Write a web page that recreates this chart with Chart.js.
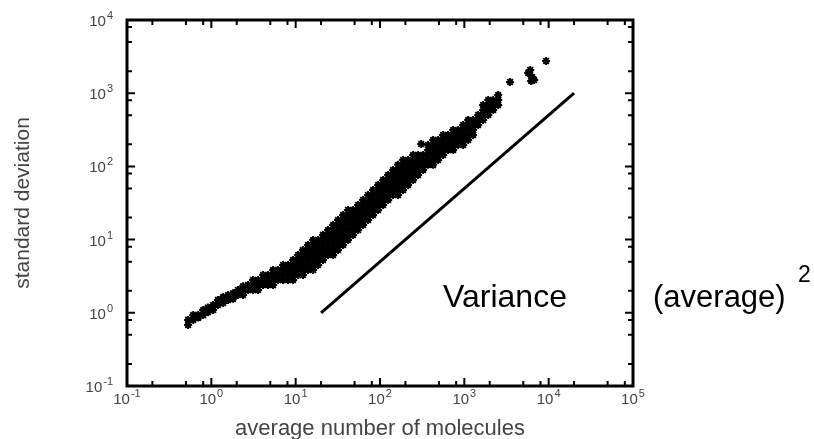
<!DOCTYPE html>
<html>
<head>
<meta charset="utf-8">
<title>standard deviation vs average number of molecules</title>
<script src="https://cdn.jsdelivr.net/npm/chart.js@4.4.1/dist/chart.umd.min.js"></script>
<style>
  html, body { margin: 0; padding: 0; background: #fff; }
  #wrap { width: 814px; height: 439px; position: relative; }
</style>
</head>
<body>
<div id="wrap"><canvas id="chart"></canvas></div>
<script>
// Scatter of standard deviation against average molecule count (log-log)
// ============================================================

// band of the cloud: one x per column, with the y samples read in that column
const colX = [0.53, 0.61, 0.70, 0.80, 0.91, 1.05, 1.20, 1.38, 1.58, 1.81,
  2.07, 2.38, 2.73, 3.12, 3.58, 4.11, 4.71, 5.40, 6.18, 7.09,
  8.13, 9.32, 10.7, 12.2, 14.0, 16.1, 18.4, 21.1, 24.2, 27.8,
  31.8, 36.5, 41.8, 48.0, 55.0, 63.0, 72.2, 82.8, 95.0, 109,
  125, 143, 164, 188, 215, 247, 283, 325, 372, 427,
  489, 560, 642, 737, 844, 968, 1110, 1270, 1460, 1670,
  1920, 2200, 2520];

const colY = [
  [0.80, 0.68], [0.93, 0.80], [0.93, 0.86], [1.09, 0.93], [1.18, 1.02],
  [1.28, 1.09], [1.50, 1.28], [1.64, 1.36], [1.75, 1.50], [1.85, 1.55],
  [2.05, 1.75], [2.30, 2.00, 1.75], [2.40, 2.05], [2.81, 2.40, 2.05], [2.81, 2.40, 2.05],
  [3.28, 2.81, 2.40], [3.28, 2.81, 2.40], [3.84, 3.28, 2.81, 2.40], [3.84, 3.28, 2.81], [4.50, 3.84, 3.28, 2.81],
  [4.50, 3.84, 3.28, 2.81], [5.26, 4.50, 3.84, 3.28, 2.81], [6.16, 5.26, 4.50, 3.84, 3.28],
  [7.21, 6.16, 5.26, 4.50, 3.84, 3.28], [8.44, 7.21, 6.16, 5.26, 4.50, 3.84],
  [9.87, 8.44, 7.21, 6.16, 5.26, 4.50, 3.84], [9.87, 8.44, 7.21, 6.16, 5.26, 4.50],
  [11.6, 9.87, 8.44, 7.21, 6.16, 5.26], [13.5, 11.6, 9.87, 8.44, 7.21, 6.16],
  [15.8, 13.5, 11.6, 9.87, 8.44, 7.21, 6.16], [18.5, 15.8, 13.5, 11.6, 9.87, 8.44, 7.21],
  [21.7, 18.5, 15.8, 13.5, 11.6, 9.87, 8.44], [25.4, 21.7, 18.5, 15.8, 13.5, 11.6, 9.87],
  [25.4, 21.7, 18.5, 15.8, 13.5, 11.6], [29.7, 25.4, 21.7, 18.5, 15.8, 13.5],
  [34.8, 29.7, 25.4, 21.7, 18.5, 15.8], [40.7, 34.8, 29.7, 25.4, 21.7, 18.5],
  [47.6, 40.7, 34.8, 29.7, 25.4, 21.7], [55.7, 47.6, 40.7, 34.8, 29.7, 25.4],
  [65.2, 55.7, 47.6, 40.7, 34.8, 29.7], [76.3, 65.2, 55.7, 47.6, 40.7, 34.8],
  [89.3, 76.3, 65.2, 55.7, 47.6, 40.7], [105, 89.3, 76.3, 65.2, 55.7, 47.6, 40.7],
  [122, 105, 89.3, 76.3, 65.2, 55.7, 47.6], [122, 105, 89.3, 76.3, 65.2, 55.7],
  [143, 122, 105, 89.3, 76.3, 65.2], [143, 122, 105, 89.3, 76.3],
  [143, 122, 105, 89.3], [196, 168, 143, 122, 105], [229, 196, 168, 143, 122, 105],
  [229, 196, 168, 143, 122], [269, 229, 196, 168, 143], [269, 229, 196, 168],
  [314, 269, 229, 196, 168], [314, 269, 229, 196], [368, 314, 269, 229, 196],
  [430, 368, 314, 269, 229], [430, 368, 314, 269], [504, 430, 368],
  [690, 590, 504, 430], [807, 690, 590, 504], [807, 690, 590], [945, 807, 690]
];

// stray points above the band
const strayX = [308, 3490, 5715, 6040, 6200, 6370, 6730, 9330];
const strayY = [202, 1423, 1888, 2075, 1468, 1663, 1514, 2754];

// reference line, slope 1
const guideX = [20, 20000];
const guideY = [1, 1000];

// axis ticks (decade exponents) and minor marks
const xExps = [-1, 0, 1, 2, 3, 4, 5];
const yExps = [-1, 0, 1, 2, 3, 4];
const minorSteps = [2, 5, 8];

const FONT = '"Liberation Sans", Arial, Helvetica, sans-serif';
const LABEL_GREY = '#444';

function buildPoints() {
  const pts = [];
  colX.forEach((x, i) => colY[i].forEach(y => pts.push({ x, y })));
  strayX.forEach((x, i) => pts.push({ x, y: strayY[i] }));
  return pts;
}

function tickList(exps, max) {
  const out = [];
  exps.forEach(e => {
    const b = Math.pow(10, e);
    out.push({ v: b, major: true });
    minorSteps.forEach(m => { if (m * b < max) out.push({ v: m * b, major: false }); });
  });
  return out;
}

function drawPower(ctx, exp, x, baseline, align) {
  const base = '10', sup = String(exp);
  ctx.font = '15px ' + FONT;
  const wb = ctx.measureText(base).width;
  ctx.font = '11px ' + FONT;
  const ws = ctx.measureText(sup).width;
  const left = align === 'center' ? x - (wb + ws + 1) / 2 : x - (wb + ws + 1);
  ctx.textAlign = 'left';
  ctx.textBaseline = 'alphabetic';
  ctx.font = '15px ' + FONT;
  ctx.fillText(base, left, baseline);
  ctx.font = '11px ' + FONT;
  ctx.fillText(sup, left + wb + 1, baseline - 7);
}

const framePlugin = {
  id: 'frame',
  afterDatasetsDraw(chart) {
    const { ctx, chartArea: a, scales: { x, y } } = chart;
    ctx.save();
    ctx.strokeStyle = '#000';

    // inward ticks on all four sides
    ctx.lineWidth = 2;
    ctx.beginPath();
    tickList(xExps, x.max).forEach(t => {
      const px = x.getPixelForValue(t.v);
      const len = t.major ? 8 : 5;
      ctx.moveTo(px, a.bottom); ctx.lineTo(px, a.bottom - len);
      ctx.moveTo(px, a.top);    ctx.lineTo(px, a.top + len);
    });
    tickList(yExps, y.max).forEach(t => {
      const py = y.getPixelForValue(t.v);
      const len = t.major ? 8 : 5;
      ctx.moveTo(a.left, py);  ctx.lineTo(a.left + len, py);
      ctx.moveTo(a.right, py); ctx.lineTo(a.right - len, py);
    });
    ctx.stroke();

    ctx.lineWidth = 3;
    ctx.strokeRect(a.left, a.top, a.right - a.left, a.bottom - a.top);

    // tick labels
    ctx.fillStyle = LABEL_GREY;
    xExps.forEach(e => drawPower(ctx, e, x.getPixelForValue(Math.pow(10, e)), a.bottom + 18, 'center'));
    yExps.forEach(e => drawPower(ctx, e, a.left - 14, y.getPixelForValue(Math.pow(10, e)) + 6, 'right'));

    // axis titles
    ctx.font = '22px ' + FONT;
    ctx.textAlign = 'center';
    ctx.fillText('average number of molecules', (a.left + a.right) / 2, 435);
    ctx.save();
    ctx.translate(29, (a.top + a.bottom) / 2);
    ctx.rotate(-Math.PI / 2);
    ctx.font = '21px ' + FONT;
    ctx.fillText('standard deviation', 0, 0);
    ctx.restore();

    // annotation
    ctx.fillStyle = '#000';
    ctx.textAlign = 'left';
    ctx.font = '32px ' + FONT;
    ctx.fillText('Variance', 443, 307);
    ctx.font = '31px ' + FONT;
    ctx.fillText('(average)', 653, 307);
    ctx.font = '23px ' + FONT;
    ctx.fillText('2', 798, 282);
    ctx.restore();
  }
};

new Chart(document.getElementById('chart').getContext('2d'), {
  type: 'scatter',
  data: {
    datasets: [
      {
        label: 'molecules',
        data: buildPoints(),
        pointStyle: 'star',
        pointRadius: 4,
        borderColor: '#000',
        backgroundColor: '#000',
        borderWidth: 2
      },
      {
        type: 'line',
        label: 'guide',
        data: guideX.map((gx, i) => ({ x: gx, y: guideY[i] })),
        borderColor: '#000',
        borderWidth: 3,
        pointRadius: 0,
        showLine: true,
        fill: false
      }
    ]
  },
  options: {
    responsive: true,
    maintainAspectRatio: false,
    animation: false,
    events: [],
    layout: { padding: { left: 127, right: 181, top: 20, bottom: 53 } },
    plugins: { legend: { display: false }, tooltip: { enabled: false } },
    scales: {
      x: { type: 'logarithmic', min: 0.1, max: 1e5, display: false },
      y: { type: 'logarithmic', min: 0.1, max: 1e4, display: false }
    }
  },
  plugins: [framePlugin]
});
</script>
</body>
</html>
